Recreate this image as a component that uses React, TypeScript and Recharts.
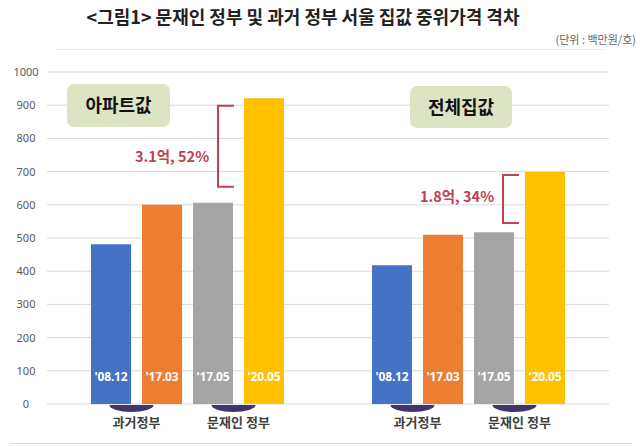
import { Bar, BarChart, CartesianGrid, LabelList, XAxis, YAxis } from 'recharts'

// values in 백만원/호
const categories = ['아파트값', '전체집값']
const periods = ["'08.12", "'17.03", "'17.05", "'20.05"]
const v0812 = [481, 418]
const v1703 = [600, 510]
const v1705 = [606, 517]
const v2005 = [921, 699]
const yTicks = [0, 100, 200, 300, 400, 500, 600, 700, 800, 900, 1000]
const groupLabels = ['과거정부', '문재인 정부']
const gapNotes = ['3.1억, 52%', '1.8억, 34%']

const seriesKeys = ['p0812', 'p1703', 'p1705', 'p2005']
const seriesValues = [v0812, v1703, v1705, v2005]
const COLORS = ['#4472c4', '#ed7d31', '#a5a5a5', '#ffc000']

const data = categories.map((name, i) => {
  const row: Record<string, string | number> = { name }
  seriesKeys.forEach((k, s) => (row[k] = seriesValues[s][i]))
  return row
})

const W = 640
const H = 446
const PLOT_LEFT = 47
const PLOT_RIGHT = 609
const PLOT_TOP = 72
const PLOT_BOTTOM = 404
const X_AXIS_H = 30
const BAR_SIZE = 40
const BAR_GAP = 11
const Y_MAX = 1000
const RED = '#c0404f'
const FONT = '"Noto Sans", "Noto Sans CJK KR", sans-serif'
const KFONT = '"Noto Sans CJK KR", "Noto Sans", sans-serif'

const yPix = (v: number) => PLOT_TOP + (1 - v / Y_MAX) * (PLOT_BOTTOM - PLOT_TOP)

const YTick = ({ y, payload }: any) => (
  <text x={26} y={y + 4} textAnchor="middle" fontSize={11} fill="#595959" fontFamily={FONT}>
    {payload.value}
  </text>
)

const XTick = ({ x }: any) => (
  <g>
    {[-1, 1].map((k, i) => {
      const cx = x + k * (BAR_SIZE + BAR_GAP)
      const ex = cx - 5
      return (
        <g key={i}>
          <path
            d={`M ${ex - 22} ${PLOT_BOTTOM + 1} A 22 7 0 0 0 ${ex + 22} ${PLOT_BOTTOM + 1} Z`}
            fill="#41336b"
          />
          <text x={cx} y={427} textAnchor="middle" fontSize={13} fontWeight={700} fill="#404040" fontFamily={KFONT}>
            {groupLabels[i]}
          </text>
        </g>
      )
    })}
  </g>
)

const periodLabel = (idx: number) => (props: any) => {
  const { x, y, width, height } = props
  return (
    <text
      x={Number(x) + Number(width) / 2}
      y={Number(y) + Number(height) - 23}
      textAnchor="middle"
      fontSize={12}
      fontWeight={700}
      fill="#ffffff"
      fontFamily={FONT}
      letterSpacing={-0.2}
    >
      {periods[idx]}
    </text>
  )
}

// label boxes and the gap brackets on top of the chart
const Overlay = () => {
  const boxes = [
    { x: 67, y: 84, w: 103, h: 43 },
    { x: 410, y: 86, w: 102, h: 42 },
  ]
  const brackets = [
    { x: 218, top: 898, bottom: 654, tx: 172, ty: 162 },
    { x: 503, top: 690, bottom: 545, tx: 457, ty: 202 },
  ]
  return (
    <svg width={W} height={H} style={{ position: 'absolute', left: 0, top: 0, pointerEvents: 'none' }}>
      <text x={303} y={24} textAnchor="middle" fontSize={18} fontWeight={700} fill="#222" fontFamily={KFONT}>
        {'<그림1> 문재인 정부 및 과거 정부 서울 집값 중위가격 격차'}
      </text>
      <text x={636} y={44} textAnchor="end" fontSize={11} fill="#666" fontFamily={KFONT}>
        (단위 : 백만원/호)
      </text>
      <line x1={55} x2={605} y1={49.5} y2={49.5} stroke="#ececec" />
      <line x1={10} x2={632} y1={443.5} y2={443.5} stroke="#dcdcdc" />
      {boxes.map((b, i) => (
        <g key={i}>
          <rect x={b.x} y={b.y} width={b.w} height={b.h} rx={7} fill="#dde4c4" />
          <text
            x={b.x + b.w / 2}
            y={b.y + b.h / 2 + 6.5}
            textAnchor="middle"
            fontSize={18}
            fontWeight={700}
            fill="#111"
            fontFamily={KFONT}
          >
            {categories[i]}
          </text>
        </g>
      ))}
      {brackets.map((b, i) => {
        const y1 = yPix(b.top)
        const y2 = yPix(b.bottom)
        return (
          <g key={i}>
            <path
              d={`M ${b.x + 16} ${y1} H ${b.x} V ${y2} H ${b.x + 16}`}
              fill="none"
              stroke={RED}
              strokeWidth={2}
            />
            <text x={b.tx} y={b.ty} textAnchor="middle" fontSize={14.5} fontWeight={700} fill={RED} fontFamily={KFONT}>
              {gapNotes[i]}
            </text>
          </g>
        )
      })}
    </svg>
  )
}

export default function App() {
  return (
    <div style={{ position: 'absolute', left: 0, top: 0, width: W, height: H, background: '#fff' }}>
      <BarChart
        width={W}
        height={H}
        data={data}
        barSize={BAR_SIZE}
        barGap={BAR_GAP}
        margin={{ top: PLOT_TOP, right: W - PLOT_RIGHT, left: 0, bottom: H - PLOT_BOTTOM - X_AXIS_H }}
      >
        <CartesianGrid horizontal vertical={false} stroke="#d9d9d9" />
        <XAxis dataKey="name" height={X_AXIS_H} axisLine={false} tickLine={false} tick={<XTick />} interval={0} />
        <YAxis
          width={PLOT_LEFT}
          domain={[0, Y_MAX]}
          ticks={yTicks}
          axisLine={false}
          tickLine={false}
          tick={<YTick />}
          interval={0}
        />
        {seriesKeys.map((k, i) => (
          <Bar key={k} dataKey={k} fill={COLORS[i]} isAnimationActive={false}>
            <LabelList dataKey={k} content={periodLabel(i)} />
          </Bar>
        ))}
      </BarChart>
      <Overlay />
    </div>
  )
}
